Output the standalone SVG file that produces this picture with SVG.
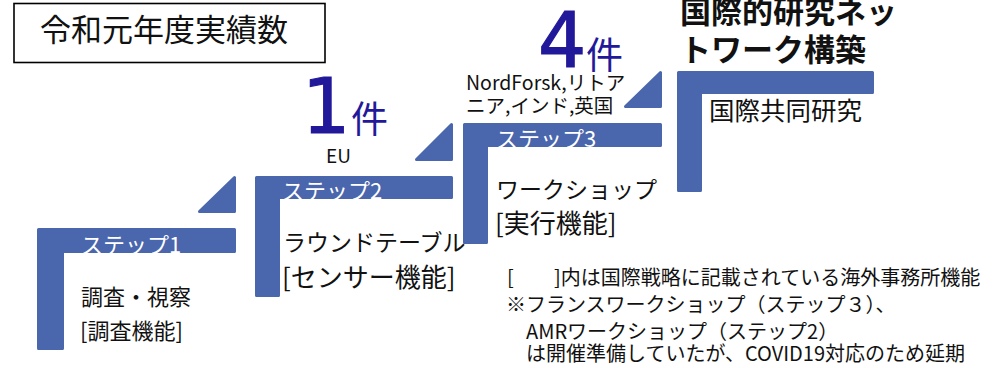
<svg xmlns="http://www.w3.org/2000/svg" width="1000" height="368" viewBox="0 0 1000 368">
<style>
.bar{fill:#4A66AC;stroke:#4A66AC;stroke-width:3;stroke-linejoin:round}
.t{font-family:"Noto Sans CJK JP","Noto Sans",sans-serif;fill:#111}
.w{fill:#fff;font-size:22px}
.big{font-family:"DejaVu Sans","Noto Sans CJK JP",sans-serif;fill:#22189A;stroke:#22189A;stroke-width:1.2;font-size:76px}
.ken{font-family:"Noto Sans CJK JP","Noto Sans",sans-serif;fill:#22189A;font-size:37px}
</style>
<rect width="1000" height="368" fill="#fff"/>
<g id="title">
<rect x="14" y="3.5" width="311" height="59" fill="#fff" stroke="#000" stroke-width="1.6"/>
<text class="t" x="40" y="41" font-size="31">令和元年度実績数</text>
</g>
<g id="connectors">
<path class="bar" d="M234.5,177.5 V211.5 H199.5 Z"/>
<path class="bar" d="M451.5,124.5 V159.5 H416.5 Z"/>
<path class="bar" d="M660.5,72.5 V106.5 H625.5 Z"/>
</g>
<g id="step1">
<path class="bar" d="M38.5,229.5 H234.5 V251.5 H62.5 V348.5 H38.5 Z"/>
<text class="t w" x="81" y="253">ステップ1</text>
<text class="t" x="81" y="305" font-size="22">調査・視察</text>
<text class="t" x="80" y="339" font-size="22">[調査機能]</text>
</g>
<g id="step2">
<path class="bar" d="M256.5,177.5 H451.5 V197.5 H278.5 V295.5 H256.5 Z"/>
<text class="t w" x="282" y="199">ステップ2</text>
<text class="t" x="283" y="251" font-size="23">ラウンドテーブル</text>
<text class="t" x="282" y="287" font-size="26">[センサー機能]</text>
<text class="big" x="302" y="133">1</text>
<text class="ken" x="351" y="133">件</text>
<text class="t" x="326" y="163" font-size="19">EU</text>
</g>
<g id="step3">
<path class="bar" d="M464.5,124.5 H660.5 V145.5 H486.5 V242.5 H464.5 Z"/>
<text class="t w" x="496" y="147">ステップ3</text>
<text class="t" x="496" y="198" font-size="23">ワークショップ</text>
<text class="t" x="495" y="233" font-size="26">[実行機能]</text>
<text class="big" x="538" y="67">4</text>
<text class="ken" x="586" y="69">件</text>
<text class="t" x="466" y="90" font-size="19.5">NordForsk,リトア</text>
<text class="t" x="466" y="113" font-size="19.5">ニア,インド,英国</text>
</g>
<g id="step4">
<path class="bar" d="M678.5,72.5 H872.5 V92.5 H700.5 V190.5 H678.5 Z"/>
<text class="t" x="709" y="120" font-size="25.5">国際共同研究</text>
<text class="t" x="680" y="23" font-size="31" font-weight="bold" fill="#000">国際的研究ネッ</text>
<text class="t" x="680" y="61" font-size="31" font-weight="bold" fill="#000">トワーク構築</text>
</g>
<g id="note">
<text class="t" x="507" y="285" font-size="20">[</text>
<text class="t" x="554" y="285" font-size="20">]内は国際戦略に記載されている海外事務所機能</text>
<text class="t" x="506" y="312" font-size="20">※フランスワークショップ（ステップ３）、</text>
<text class="t" x="526" y="339" font-size="20">AMRワークショップ（ステップ2）</text>
<text class="t" x="526" y="361" font-size="20">は開催準備していたが、COVID19対応のため延期</text>
</g>
</svg>
